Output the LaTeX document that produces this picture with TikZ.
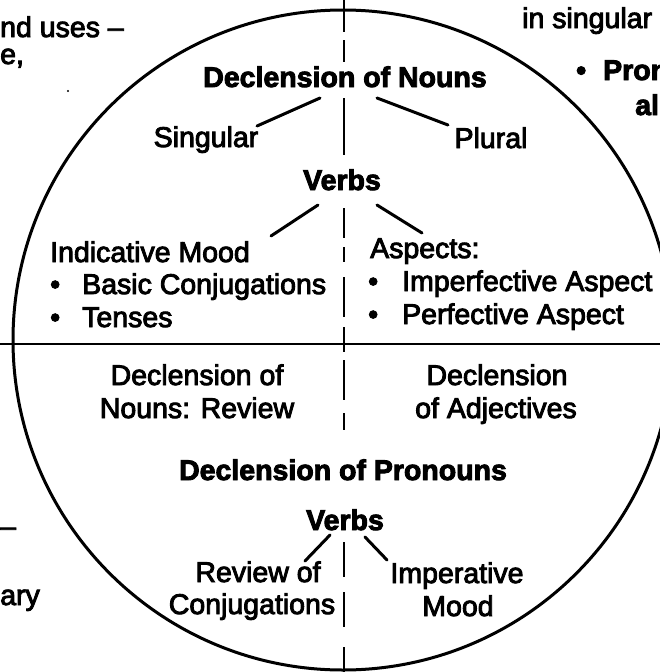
\documentclass[tikz,border=0pt]{standalone}
\usepackage{fontspec}
\setmainfont{Liberation Sans}
\newcommand\fsz{\fontsize{28.5}{33}\selectfont}
\newcommand\heavyon[1]{\special{pdf:literal direct q 2 Tr #1 w}}
\newcommand\heavyoff{\special{pdf:literal direct Q}}
\tikzset{
  txt/.style={inner sep=0pt, anchor=base, font=\fsz,
    execute at begin node={\heavyon{0.9}}, execute at end node={\heavyoff}},
  txtw/.style={txt, anchor=base west},
  btxt/.style={txt, font=\fsz\bfseries},
  btxtw/.style={btxt, anchor=base west},
  conn/.style={line width=3pt, line cap=round},
  vline/.style={line width=2.6pt},
}
\newcommand\bul[1]{\makebox[#1][l]{\textbullet}}
\begin{document}
\begin{tikzpicture}[x=1pt,y=-1pt]
\useasboundingbox (0,0) rectangle (660,672);
\clip (0,0) rectangle (660,672);
\fill[white] (0,0) rectangle (660,672);

% circle and axes
\node[circle, draw, line width=3pt, minimum size=660pt, inner sep=0pt] (ring) at (343,340) {};
\draw[line width=2.2pt] (0,344) -- (660,344);
\foreach \a/\b in {0/32, 40/62, 98/155, 208/238, 247/262, 277/317, 327/352, 360/400, 413/430, 542/577, 592/627, 647/672}
  \draw[vline] (344,\a) -- (344,\b);

% outside fragments
\node[txtw] (o1) at (0,37) {nd uses –};
\node[txtw] (o2) at (0,64) {e,};
\fill (68,91) circle (1.2pt);
\node[txtw] (o3) at (522,28) {in singular};
\node[btxtw] (o4) at (576,80) {\bul{27pt}Pron};
\node[btxtw] (o5) at (635,115) {all};
\node[txtw] (o6) at (0,536) {–};
\node[txtw] (o7) at (0,605) {ary};

% upper half
\node[btxt] (dn) at (345,87) {Declension of Nouns};
\node[txt] (sg) at (206,147) {Singular};
\node[txt] (pl) at (491,148) {Plural};
\node[btxt] (vb1) at (342,190) {Verbs};
\node[txtw] (ind) at (50,262) {Indicative Mood};
\node[txtw] (bc) at (50,294) {\bul{32pt}Basic Conjugations};
\node[txtw] (ten) at (50,327) {\bul{32pt}Tenses};
\node[txtw] (asp) at (370,258) {Aspects:};
\node[txtw] (ipa) at (368,291) {\bul{34pt}Imperfective Aspect};
\node[txtw] (pfa) at (368,324) {\bul{34pt}Perfective Aspect};

% lower half
\node[txt] (dr1) at (197,385) {Declension of};
\node[txt] (dr2) at (197,418) {Nouns: Review};
\node[txt] (da1) at (497,385) {Declension};
\node[txt] (da2) at (496,418) {of Adjectives};
\node[btxt] (dp) at (343,480) {Declension of Pronouns};
\node[btxt] (vb2) at (345,530) {Verbs};
\node[txt] (rv1) at (258,582) {Review of};
\node[txt] (rv2) at (252,614) {Conjugations};
\node[txt] (im1) at (457,583) {Imperative};
\node[txt] (im2) at (458,616) {Mood};

% connector end points
\coordinate (c1a) at (320,98);  \coordinate (c1b) at (257,126);
\coordinate (c2a) at (377,98);  \coordinate (c2b) at (448,125);
\coordinate (c3a) at (318,205); \coordinate (c3b) at (271,236);
\coordinate (c4a) at (377,205); \coordinate (c4b) at (422,233);
\coordinate (c5a) at (330,535); \coordinate (c5b) at (305,561);
\coordinate (c6a) at (365,537); \coordinate (c6b) at (387,560);
\draw[conn] (c1a) -- (c1b);
\draw[conn] (c2a) -- (c2b);
\draw[conn] (c3a) -- (c3b);
\draw[conn] (c4a) -- (c4b);
\draw[conn] (c5a) -- (c5b);
\draw[conn] (c6a) -- (c6b);
\end{tikzpicture}
\end{document}
